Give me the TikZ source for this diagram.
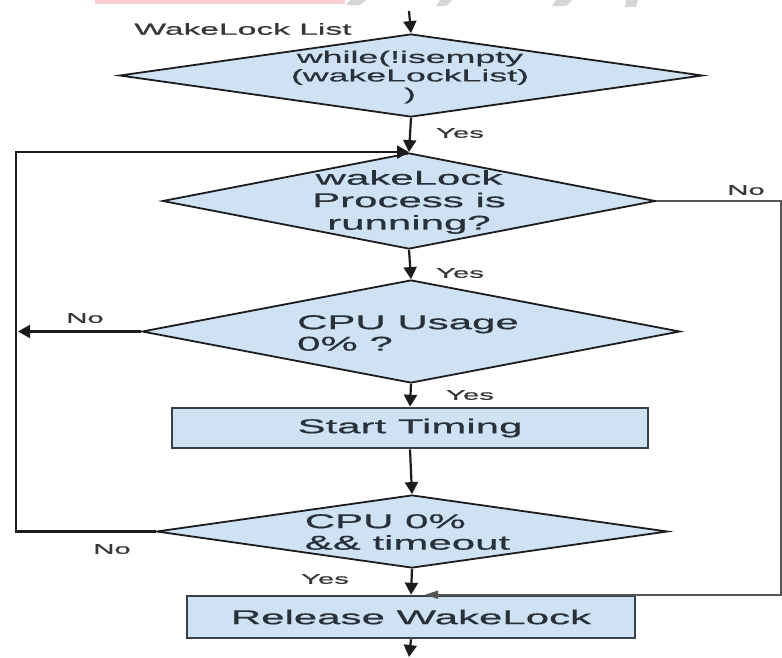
\documentclass[tikz,border=0pt]{standalone}
\usepackage{fontspec}
\setmainfont{Liberation Sans}
% wide sans face used for every label of the chart
\newfontfamily\widesans[FakeStretch=2.1,FakeBold=0.7]{Liberation Sans}
\usetikzlibrary{shapes.geometric,arrows.meta}

\definecolor{boxfill}{RGB}{207,226,243}
\definecolor{outline}{RGB}{28,28,30}
\definecolor{boxline}{RGB}{58,64,72}
\definecolor{ink}{RGB}{40,48,58}
\definecolor{labelink}{RGB}{55,55,55}
\definecolor{wmpink}{RGB}{250,208,208}
\definecolor{wmgray}{RGB}{214,214,214}

\tikzset{
  decision/.style={diamond, draw=outline, line width=1.8pt, fill=boxfill,
    inner sep=0pt},
  process/.style={rectangle, draw=boxline, line width=2.6pt, fill=boxfill,
    inner sep=0pt, text=ink, font=\widesans\fontsize{20}{23}\selectfont},
  dtext/.style={text=ink, inner sep=0pt},
  lbl/.style={text=labelink, inner sep=0pt,
    font=\widesans\fontsize{14}{16}\selectfont},
  flow/.style={draw=outline, line width=2.2pt,
    -{Triangle[width=13pt,length=12pt]}},
  sideflow/.style={draw=outline!75, line width=1.6pt,
    -{Triangle[width=8pt,length=13pt]}},
}

\begin{document}
\begin{tikzpicture}[x=1pt,y=-1pt]
\useasboundingbox (0,0) rectangle (782,657);
\fill[white] (0,0) rectangle (782,657);

% remains of the banner along the top edge
\fill[wmpink] (95,0) rectangle (345,4);
\fill[wmgray] (350,0) -- (366,0) -- (360,5) -- (346,5) -- cycle;
\fill[wmgray] (440,0) -- (452,0) -- (446,6) -- (436,6) -- cycle;
\fill[wmgray] (556,0) -- (572,0) -- (566,6) -- (552,6) -- cycle;
\fill[wmgray] (626,0) -- (638,0) -- (636,7) -- (625,7) -- cycle;

% shapes
\node[decision, minimum width=583pt, minimum height=83pt] (d1) at (411,75.5) {};
\node[decision, minimum width=493pt, minimum height=96pt] (d2) at (409,201) {};
\node[decision, minimum width=538pt, minimum height=103pt] (d3) at (411,331.5) {};
\node[process, minimum width=476pt, minimum height=40pt] (r1) at (410,428) {Start Timing};
\node[decision, minimum width=511pt, minimum height=73pt] (d4) at (412,531.5) {};
\node[process, minimum width=448pt, minimum height=42pt] (r2) at (411,617) {Release WakeLock};

% texts inside the decisions
\node[dtext, align=center, font=\widesans\fontsize{17}{18.5}\selectfont] (t1) at (410,77)
  {while(!isempty\\(wakeLockList)\\)};
\node[dtext, align=center, font=\widesans\fontsize{20}{22.5}\selectfont] (t2) at (409,202)
  {wakeLock\\Process is\\running?};
\node[dtext, align=left, font=\widesans\fontsize{20}{21.5}\selectfont] (t3) at (408,333)
  {CPU Usage\\0\% ?};
\node[dtext, align=left, font=\widesans\fontsize{20}{21.5}\selectfont] (t4) at (407.5,532)
  {CPU 0\%\\\&\& timeout};

% caption of the input
\node[lbl, font=\widesans\fontsize{16}{18}\selectfont] (listlbl) at (243,29) {WakeLock List};

% free ends of connectors
\coordinate (entry) at (409,11);
\coordinate (exit) at (409,657);
\coordinate (loopleft) at (16,531.5);
\coordinate (rightside) at (781,201);

% main flow
\draw[flow] (entry) -- (d1.north);
\draw[flow] (d1.south) -- (d2.north);
\draw[flow] (d2.south) -- (d3.north);
\draw[flow] (d3.south) -- (r1.north);
\draw[flow] (r1.south) -- (d4.north);
\draw[flow] (d4.south) -- (r2.north);
\draw[flow] (r2.south) -- (exit);

% loop back to the process check
\draw[flow] (d4.west) -- (loopleft) |- (d2.north);
\draw[flow] (d3.west) -- ([xshift=2pt]d3.west -| loopleft);

% process not running: release directly
\draw[sideflow] (d2.east) -- (rightside) |- ([xshift=14pt]r2.north);

% branch labels
\node[lbl] (y1) at (460,133) {Yes};
\node[lbl] (y2) at (460,273) {Yes};
\node[lbl] (y3) at (470,395) {Yes};
\node[lbl] (y4) at (325,579) {Yes};
\node[lbl] (n1) at (746,190) {No};
\node[lbl] (n2) at (85,318) {No};
\node[lbl] (n3) at (112,549) {No};
\end{tikzpicture}
\end{document}
